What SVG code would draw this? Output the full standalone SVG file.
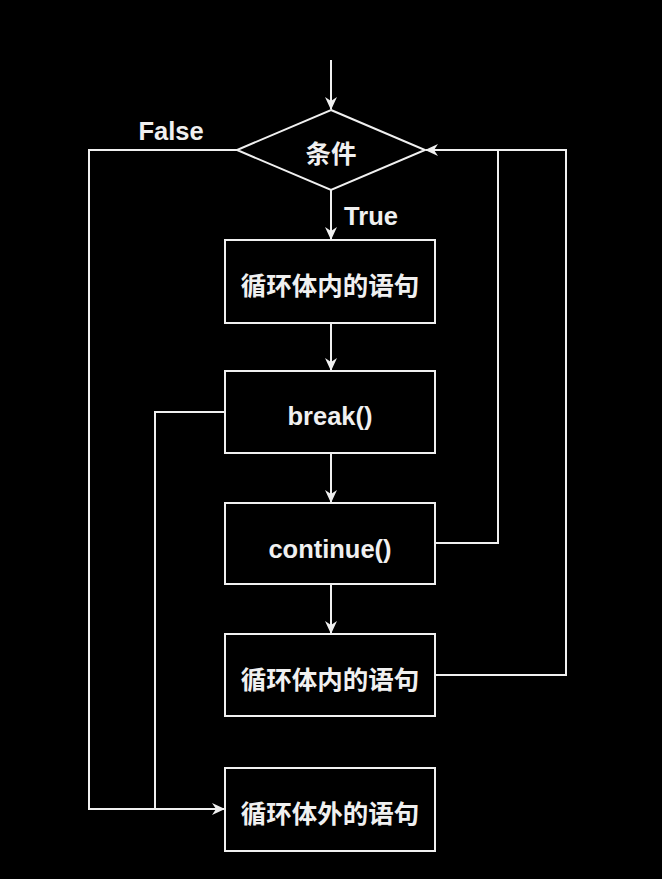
<svg xmlns="http://www.w3.org/2000/svg" width="662" height="879" viewBox="0 0 662 879">
<style>
.s{fill:none;stroke:#f0f0f0;stroke-width:2}
.b{fill:#000;stroke:#f0f0f0;stroke-width:2}
.t{fill:#f0f0f0;font-family:"Noto Sans CJK SC","Noto Sans",sans-serif;font-weight:bold;font-size:25.5px;text-anchor:middle;dominant-baseline:central}
.e{fill:#f0f0f0;font-family:"Liberation Sans",Arial,sans-serif;font-weight:bold;font-size:25.5px;text-anchor:middle;dominant-baseline:central}
</style>
<defs>
<marker id="a" markerWidth="14" markerHeight="14" refX="12" refY="7" orient="auto" markerUnits="userSpaceOnUse">
<path d="M0,1 L13,7 L0,13 L4,7 Z" fill="#f0f0f0"/>
</marker>
</defs>
<rect width="662" height="879" fill="#000"/>
<g id="connectors">
<path class="s" d="M331,60 V109" marker-end="url(#a)"/>
<path class="s" d="M331,190 V239" marker-end="url(#a)"/>
<path class="s" d="M331,323 V370" marker-end="url(#a)"/>
<path class="s" d="M331,453 V502" marker-end="url(#a)"/>
<path class="s" d="M331,584 V633" marker-end="url(#a)"/>
<path class="s" d="M237,150 H89 V809 H224" marker-end="url(#a)"/>
<path class="s" d="M225,412 H155 V809"/>
<path class="s" d="M435,543 H498 V150 H426" marker-end="url(#a)"/>
<path class="s" d="M435,675 H566 V150 H498"/>
</g>
<g id="cond">
<path class="b" d="M331,110 L425,150 L331,190 L237,150 Z"/>
<text class="t" x="331" y="151">条件</text>
</g>
<g id="label-false"><text class="e" x="171" y="131">False</text></g>
<g id="label-true"><text class="e" x="371" y="216">True</text></g>
<g id="box1">
<rect class="b" x="225" y="240" width="210" height="83"/>
<text class="t" x="330" y="283">循环体内的语句</text>
</g>
<g id="box2">
<rect class="b" x="225" y="371" width="210" height="82"/>
<text class="e" x="330" y="416">break()</text>
</g>
<g id="box3">
<rect class="b" x="225" y="503" width="210" height="81"/>
<text class="e" x="330" y="549">continue()</text>
</g>
<g id="box4">
<rect class="b" x="225" y="634" width="210" height="82"/>
<text class="t" x="330" y="677">循环体内的语句</text>
</g>
<g id="box5">
<rect class="b" x="225" y="768" width="210" height="83"/>
<text class="t" x="330" y="811">循环体外的语句</text>
</g>
</svg>
